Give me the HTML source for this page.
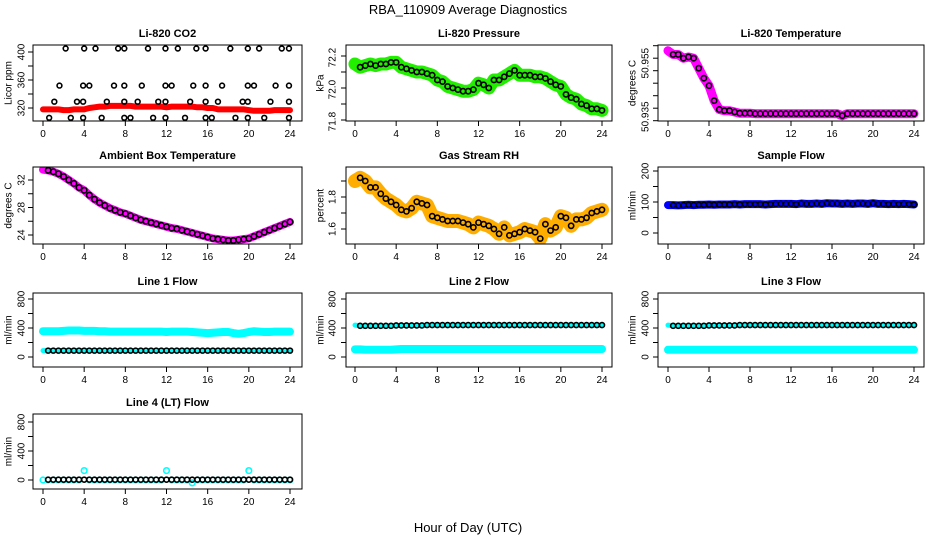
<!DOCTYPE html>
<html><head><meta charset="utf-8">
<style>
html,body{margin:0;padding:0;background:#fff;}
svg{display:block;font-family:"Liberation Sans",sans-serif;}
</style></head>
<body>
<svg id="chart" width="936" height="540" viewBox="0 0 936 540" xmlns="http://www.w3.org/2000/svg">
<text x="468" y="14" text-anchor="middle" font-size="13">RBA_110909  Average Diagnostics</text>
<text x="468" y="532" text-anchor="middle" font-size="13">Hour of Day (UTC)</text>
</svg>
<script>
// Hours at half-hour steps
const hours = [0,0.5,1,1.5,2,2.5,3,3.5,4,4.5,5,5.5,6,6.5,7,7.5,8,8.5,9,9.5,10,10.5,11,11.5,12,12.5,13,13.5,14,14.5,15,15.5,16,16.5,17,17.5,18,18.5,19,19.5,20,20.5,21,21.5,22,22.5,23,23.5,24];
const xTicks = [0,4,8,12,16,20,24];

const co2Red = [318,318,318,318,317,317,318,318,318,320, 321,322,322,323,323,323,323,323,322,322, 322,322,322,322,321,322,322,322,322,322, 321,321,320,320,318,318,318,318,318,318, 317,316,316,316,316,317,317,317,317];
const co2OutTimes = [2.2,4,5.1,7.3,7.9,10.2,11.9,13.1,14.9,15.8,18.2,19.9,21,23.2,23.9, 1.6,3.9,4.5,6.9,7.9,9.6,11.9,12.5,14.6,15.8,17.4,19.9,20.5,22.6,23.9, 1.1,3.3,3.9,6.2,7.9,9.2,11.2,11.9,14.3,15.8,17,19.4,19.9,22.1,23.9, 0.6,2.7,3.9,5.7,7.9,8.5,10.7,11.9,13.8,15.8,16.4,18.7,19.9,21.5,23.9];
const co2OutVals = [405,405,405,405,405,405,405,405,405,405,405,405,405,405,405, 352,352,352,352,352,352,352,352,352,352,352,352,352,352,352, 329,329,329,329,329,329,329,329,329,329,329,329,329,329,329, 306,306,306,306,306,306,306,306,306,306,306,306,306,306,306];

const pressure = [72.15,72.13,72.14,72.15,72.14,72.15,72.15,72.16,72.16,72.13, 72.12,72.11,72.10,72.10,72.09,72.08,72.05,72.04,72.01,72.00, 71.99,71.98,71.98,71.99,72.03,72.02,72.00,72.05,72.05,72.07, 72.09,72.11,72.08,72.08,72.08,72.07,72.07,72.06,72.04,72.02, 72.01,71.96,71.94,71.93,71.90,71.89,71.87,71.87,71.86];

const liTemp = [50.958,50.9565,50.9565,50.955,50.9555,50.955,50.951,50.947,50.944,50.938, 50.9345,50.934,50.934,50.9335,50.933,50.933,50.933,50.9328,50.9328,50.9328, 50.9328,50.9328,50.9328,50.9328,50.9328,50.9328,50.9328,50.9328,50.9328,50.9328, 50.9328,50.9328,50.9328,50.9328,50.932,50.9328,50.9328,50.9328,50.9328,50.9328, 50.9328,50.9328,50.9328,50.9328,50.9328,50.9328,50.9328,50.9328,50.9328];

const ambient = [33.5,33.4,33.2,32.9,32.5,32.0,31.5,30.9,30.5,29.8, 29.2,28.7,28.3,27.9,27.6,27.3,27.1,26.8,26.5,26.2, 26.0,25.8,25.6,25.4,25.2,25.0,24.9,24.7,24.5,24.3, 24.1,23.9,23.7,23.5,23.4,23.3,23.2,23.2,23.3,23.4, 23.5,23.8,24.1,24.4,24.7,25.0,25.3,25.6,25.9];

const gasRH = [1.90,1.92,1.90,1.86,1.86,1.82,1.79,1.77,1.75,1.72, 1.71,1.73,1.77,1.76,1.75,1.68,1.67,1.66,1.65,1.65, 1.65,1.64,1.63,1.61,1.64,1.63,1.62,1.60,1.57,1.61, 1.56,1.57,1.58,1.60,1.59,1.58,1.54,1.63,1.59,1.61, 1.68,1.67,1.62,1.66,1.66,1.67,1.70,1.71,1.72];

const sampleFlow = [90,90,89,90,91,90,91,91,92,91, 92,92,92,93,92,93,93,93,93,92, 93,94,94,94,94,93,95,94,94,95, 94,96,95,95,94,95,94,95,95,94, 96,94,94,93,94,93,94,93,92];

const line1Cyan = [355,355,355,355,360,365,365,365,360,360, 360,355,355,350,350,350,350,350,350,350, 350,350,350,350,345,350,350,350,350,345, 340,335,330,335,340,345,345,330,320,330, 345,355,350,345,345,350,350,350,350];
const line1Black = [88,88,88,88,88,88,88,88,88,88, 88,88,88,88,88,88,88,88,88,88, 88,88,88,88,88,88,88,88,88,88, 88,88,88,88,88,88,88,88,88,88, 88,88,88,88,88,88,88,88,88];

const line2Black = [440,430,430,430,430,430,430,430,435,435, 435,435,435,435,440,440,440,440,440,440, 440,440,440,440,440,440,440,440,440,440, 440,440,440,440,440,440,440,440,440,440, 440,440,440,440,440,440,440,440,440];
const line2Cyan = [105,105,100,100,100,100,100,100,105,110, 110,110,110,110,110,110,110,110,110,110, 110,110,110,110,110,110,110,110,110,110, 110,110,110,110,110,110,110,110,110,110, 110,110,110,110,110,110,110,110,110];

const line3Black = [440,430,430,430,430,430,430,430,435,435, 435,435,435,435,440,440,440,440,440,440, 440,440,440,440,440,440,440,440,440,440, 440,440,440,440,440,440,440,440,440,440, 440,440,440,440,440,440,440,440,440];
const line3Cyan = [100,100,100,100,100,100,100,100,100,100, 100,100,100,100,100,100,100,100,100,100, 100,100,100,100,100,100,100,100,100,100, 100,100,100,100,100,100,100,100,100,100, 100,100,100,100,100,100,100,100,100];

const line4Cyan = [0,0,0,0,0,0,0,0,130,0, 0,0,0,0,0,0,0,0,0,0, 0,0,0,0,130,0,0,0,0,-40, 0,0,0,0,0,0,0,0,0,0, 130,0,0,0,0,0,0,0,0];
const line4Black = [5,5,5,5,5,5,5,5,5,5, 5,5,5,5,5,5,5,5,5,5, 5,5,5,5,5,5,5,5,5,5, 5,5,5,5,5,5,5,5,5,5, 5,5,5,5,5,5,5,5,5];

const NS = "http://www.w3.org/2000/svg";
const svg = document.getElementById('chart');
function mk(tag, attrs, parent){ const e=document.createElementNS(NS,tag); for(const k in attrs) e.setAttribute(k,attrs[k]); (parent||svg).appendChild(e); return e; }

const cols = [{bx0:33,bx1:302,x0:43,x24:290,lab:22,tit:9},{bx0:346,bx1:612,x0:355,x24:602,lab:333,tit:321},{bx0:658,bx1:924,x0:668,x24:914,lab:646,tit:633}];
const rows = [{y0:45,y1:121},{y0:167,y1:244},{y0:293,y1:367},{y0:414,y1:489}];

function panel(cfg){
  const c=cols[cfg.col], r=rows[cfg.row];
  const g=mk('g',{});
  
  
  const xs = t => c.x0 + (t/24)*(c.x24-c.x0);
  const ys = v => cfg.p0 + (v-cfg.v0)/(cfg.v1-cfg.v0)*(cfg.p1-cfg.p0);
  const clip = 'clip-'+cfg.name;
  const cp = mk('clipPath',{id:clip},g);
  mk('rect',{x:c.bx0,y:r.y0,width:c.bx1-c.bx0,height:r.y1-r.y0},cp);
  const plot = mk('g',{'clip-path':'url(#'+clip+')'},g);
  
  
  cfg.draw(plot, xs, ys);
  const box = mk('rect',{x:c.bx0,y:r.y0,width:c.bx1-c.bx0,height:r.y1-r.y0,fill:'none',stroke:'#000','stroke-width':1},g);
  
  
  const tt = mk('text',{x:(c.bx0+c.bx1)/2,y:r.y0-8,'text-anchor':'middle','font-size':11,'font-weight':'bold'},g);
  tt.textContent=cfg.title;
  
  
  mk('line',{x1:xs(0),x2:xs(24),y1:r.y1,y2:r.y1,stroke:'#000'},g);
  xTicks.forEach(t=>{
    mk('line',{x1:xs(t),x2:xs(t),y1:r.y1,y2:r.y1+5,stroke:'#000'},g);
    const tl=mk('text',{x:xs(t),y:r.y1+16,'text-anchor':'middle','font-size':10},g);
    tl.textContent=t;
    
    
  });
  cfg.yticks.forEach(v=>{ mk('line',{x1:c.bx0-5,x2:c.bx0,y1:ys(v),y2:ys(v),stroke:'#000'},g); });
  cfg.ylabels.forEach(([v,s])=>{
    const y=ys(v);
    const tl=mk('text',{x:c.lab,y:y,'text-anchor':'middle','font-size':10,transform:'rotate(-90 '+c.lab+' '+y+')','dominant-baseline':'central'},g);
    tl.textContent=s;
    
    
  });
  const ym=(r.y0+r.y1)/2;
  const yt=mk('text',{x:c.tit,y:ym,'text-anchor':'middle','font-size':10,transform:'rotate(-90 '+c.tit+' '+ym+')','dominant-baseline':'central'},g);
  yt.textContent=cfg.ylab;
  
  
}

function band(parent, xs, ys, vals, color, w, name){
  const pts = hours.map((t,i)=>xs(t)+','+ys(vals[i])).join(' ');
  const pl = mk('polyline',{points:pts,fill:'none',stroke:color,'stroke-width':w,'stroke-linejoin':'round','stroke-linecap':'round'},parent);
  
  
}
function circles(parent, xs, ys, times, vals, color, r, name, minT){
  times.forEach((t,i)=>{
    if(minT!==undefined && t<minT) return;
    const c = mk('circle',{cx:xs(t),cy:ys(vals[i]),r:r,fill:'none',stroke:color,'stroke-width':1.6},parent);
    
    
  });
}

const flowTicks=[0,200,400,600,800], flowLabels=[[0,'0'],[400,'400'],[800,'800']];

panel({name:'co2-panel',col:0,row:0,title:'Li-820 CO2',ylab:'Licor ppm',v0:320,p0:108,v1:400,p1:52,
  yticks:[320,340,360,380,400],ylabels:[[320,'320'],[360,'360'],[400,'400']],
  draw:(p,xs,ys)=>{ band(p,xs,ys,co2Red,'#ff0000',6,'co2-red-series'); circles(p,xs,ys,co2OutTimes,co2OutVals,'#000',2.4,'co2-black-point'); }});
panel({name:'pressure-panel',col:1,row:0,title:'Li-820 Pressure',ylab:'kPa',v0:71.8,p0:120,v1:72.2,p1:56,
  yticks:[71.8,71.9,72.0,72.1,72.2],ylabels:[[72.19,'72.2'],[71.99,'72.0'],[71.79,'71.8']],
  draw:(p,xs,ys)=>{ band(p,xs,ys,pressure,'#22ee00',13,'pressure-green-series'); circles(p,xs,ys,hours,pressure,'#000',2.6,'pressure-black-point',0.5); }});
panel({name:'li820-temperature-panel',col:2,row:0,title:'Li-820 Temperature',ylab:'degrees C',v0:50.93,p0:120.7,v1:50.96,p1:45.7,
  yticks:[50.93,50.935,50.94,50.945,50.95,50.955,50.96],ylabels:[[50.953,'50.955'],[50.9316,'50.935']],
  draw:(p,xs,ys)=>{ band(p,xs,ys,liTemp,'#ff00ff',9,'temperature-magenta-series'); circles(p,xs,ys,hours,liTemp,'#000',2.6,'temperature-black-point',0.5); }});
panel({name:'ambient-temperature-panel',col:0,row:1,title:'Ambient Box Temperature',ylab:'degrees C',v0:24,p0:235,v1:32,p1:180,
  yticks:[24,26,28,30,32],ylabels:[[24,'24'],[28,'28'],[32,'32']],
  draw:(p,xs,ys)=>{ band(p,xs,ys,ambient,'#ff00ff',8,'ambient-magenta-series'); circles(p,xs,ys,hours,ambient,'#000',2.7,'ambient-black-point',0.5); }});
panel({name:'gas-rh-panel',col:1,row:1,title:'Gas Stream RH',ylab:'percent',v0:1.6,p0:229,v1:1.8,p1:197,
  yticks:[1.6,1.7,1.8,1.9],ylabels:[[1.6,'1.6'],[1.8,'1.8']],
  draw:(p,xs,ys)=>{ band(p,xs,ys,gasRH,'#ffae00',14,'rh-orange-series'); circles(p,xs,ys,hours,gasRH,'#000',2.6,'rh-black-point',0.5); }});
panel({name:'sample-flow-panel',col:2,row:1,title:'Sample Flow',ylab:'ml/min',v0:0,p0:233,v1:200,p1:171,
  yticks:[0,50,100,150,200],ylabels:[[0,'0'],[100,'100'],[200,'200']],
  draw:(p,xs,ys)=>{ band(p,xs,ys,sampleFlow,'#0000ff',8,'sample-flow-blue-series'); circles(p,xs,ys,hours,sampleFlow,'#000',2.5,'sample-flow-black-point',0.5); }});
panel({name:'line1-flow-panel',col:0,row:2,title:'Line 1 Flow',ylab:'ml/min',v0:0,p0:357,v1:800,p1:299,
  yticks:flowTicks,ylabels:flowLabels,
  draw:(p,xs,ys)=>{ band(p,xs,ys,line1Cyan,'#00ffff',8,'line1-cyan-series'); band(p,xs,ys,line1Black,'#00ffff',5,'line1-cyan-low'); circles(p,xs,ys,hours,line1Black,'#000',2.5,'line1-black-point',0.5); }});
panel({name:'line2-flow-panel',col:1,row:2,title:'Line 2 Flow',ylab:'ml/min',v0:0,p0:357,v1:800,p1:299,
  yticks:flowTicks,ylabels:flowLabels,
  draw:(p,xs,ys)=>{ band(p,xs,ys,line2Cyan,'#00ffff',8,'line2-cyan-series'); band(p,xs,ys,line2Black,'#00ffff',5,'line2-cyan-high'); circles(p,xs,ys,hours,line2Black,'#000',2.5,'line2-black-point',0.5); }});
panel({name:'line3-flow-panel',col:2,row:2,title:'Line 3 Flow',ylab:'ml/min',v0:0,p0:357,v1:800,p1:299,
  yticks:flowTicks,ylabels:flowLabels,
  draw:(p,xs,ys)=>{ band(p,xs,ys,line3Cyan,'#00ffff',8,'line3-cyan-series'); band(p,xs,ys,line3Black,'#00ffff',5,'line3-cyan-high'); circles(p,xs,ys,hours,line3Black,'#000',2.5,'line3-black-point',0.5); }});
panel({name:'line4-flow-panel',col:0,row:3,title:'Line 4 (LT) Flow',ylab:'ml/min',v0:0,p0:480,v1:800,p1:422,
  yticks:flowTicks,ylabels:flowLabels,
  draw:(p,xs,ys)=>{ circles(p,xs,ys,hours,line4Cyan,'#00ffff',2.8,'line4-cyan-point'); circles(p,xs,ys,hours,line4Black,'#000',2.5,'line4-black-point',0.5); }});
</script>
</body></html>
